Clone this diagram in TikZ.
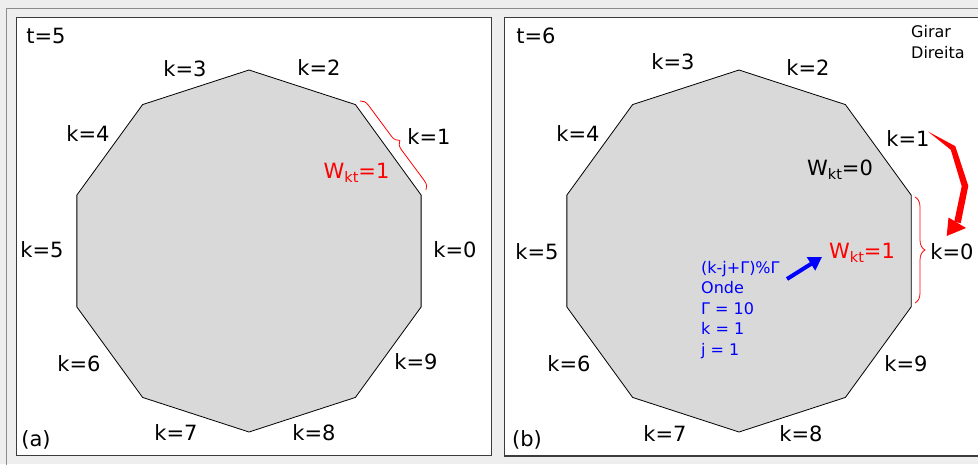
\documentclass[tikz,border=0pt]{standalone}
\usepackage{fontspec}
\setmainfont{DejaVu Sans}
\usetikzlibrary{decorations.pathreplacing,arrows.meta}
\definecolor{bg}{HTML}{EEEEEE}
\definecolor{polyfill}{HTML}{D9D9D9}
\definecolor{frameline}{HTML}{3C3C3C}
\definecolor{outerline}{HTML}{8C8C8C}
\newcommand{\Wkt}[1]{W\raisebox{-4pt}{\fontsize{14.5}{14.5}\selectfont kt}=#1}
\begin{document}
\begin{tikzpicture}[x=1pt,y=-1pt,
  lbl/.style={font=\fontsize{21}{25}\selectfont, inner sep=0pt},
  small/.style={font=\fontsize{16}{20.6}\selectfont, inner sep=0pt, align=left},
  panel/.style={draw=frameline, fill=white, line width=0.9pt},
  deca/.style={draw=black, fill=polyfill, line width=0.8pt},
  redbrace/.style={draw=red, decorate, line width=0.8pt},
]
\useasboundingbox (0,0) rectangle (978,464);
\fill[bg] (0,0) rectangle (978,464);
\draw[outerline, line width=0.8pt] (6,470) -- (6,8) -- (990,8);
\draw[panel] (16,17) rectangle (491,455);
\draw[panel] (504,17) rectangle (990,456);
\draw[frameline, line width=1.6pt] (504,456) -- (990,456);

% decagons
\begin{scope}[shift={(249,251)}]
  \draw[deca] (-90:181) \foreach \a in {-54,-18,18,54,90,126,162,198,234} { -- (\a:181) } -- cycle;
\end{scope}
\begin{scope}[shift={(739,251)}]
  \draw[deca] (-90:181) \foreach \a in {-54,-18,18,54,90,126,162,198,234} { -- (\a:181) } -- cycle;
\end{scope}

% left panel labels
\node[lbl] (tL) at (46,36) {t=5};
\node[lbl] (aL) at (36,440) {(a)};
\node[lbl] (L3) at (185,69) {k=3};
\node[lbl] (L2) at (319,68) {k=2};
\node[lbl] (L1) at (429,137) {k=1};
\node[lbl] (L0) at (455,250) {k=0};
\node[lbl] (L9) at (416,362) {k=9};
\node[lbl] (L8) at (314,433) {k=8};
\node[lbl] (L7) at (176,433) {k=7};
\node[lbl] (L6) at (79,364) {k=6};
\node[lbl] (L5) at (42,250) {k=5};
\node[lbl] (L4) at (88,134) {k=4};
\node[lbl, text=red, anchor=base] (WL) at (356.5,178) {\Wkt{1}};
\draw[redbrace, decoration={brace, amplitude=8.5pt}] (360,101) -- (426,190);

% right panel labels
\node[lbl] (tR) at (536,36) {t=6};
\node[lbl] (bR) at (527,440) {(b)};
\node[small, anchor=north west] (gir) at (911,25.5) {Girar\\Direita};
\node[lbl] (R3) at (673,62) {k=3};
\node[lbl] (R2) at (808,68) {k=2};
\node[lbl] (R1) at (908,139) {k=1};
\node[lbl] (R0) at (952,252) {k=0};
\node[lbl] (R9) at (906,364) {k=9};
\node[lbl] (R8) at (801,434) {k=8};
\node[lbl] (R7) at (665,434) {k=7};
\node[lbl] (R6) at (569,364) {k=6};
\node[lbl] (R5) at (537,252) {k=5};
\node[lbl] (R4) at (578,134) {k=4};
\node[lbl, anchor=base] (W0) at (840,175) {\Wkt{0}};
\node[lbl, text=red, anchor=base] (W1) at (862,258) {\Wkt{1}};
\draw[redbrace, decoration={brace, amplitude=10pt}] (915,197) -- (915,303);

% blue formula
\node[small, text=blue, anchor=north west] (form) at (701,260.8)
  {(k-j+Γ)\%Γ\\Onde\\Γ = 10\\k = 1\\j = 1};
\coordinate (btail) at (787,279);
\coordinate (bhead) at (822,257);
\draw[blue, line width=4pt, -{Triangle[length=13pt,width=15pt]}] (btail) -- (bhead);

% red turning arrow
\coordinate (rA) at (928,131.5);
\fill[red] (rA) -- (955.3,146.2) -- (968.3,185.8) -- (960.8,223.1)
  -- (954.2,221.9) -- (961.7,186.2) -- (950.8,149.8) -- cycle;
\fill[red] (948.5,217.5) -- (966,228) -- (946.7,236) -- cycle;
\end{tikzpicture}
\end{document}
